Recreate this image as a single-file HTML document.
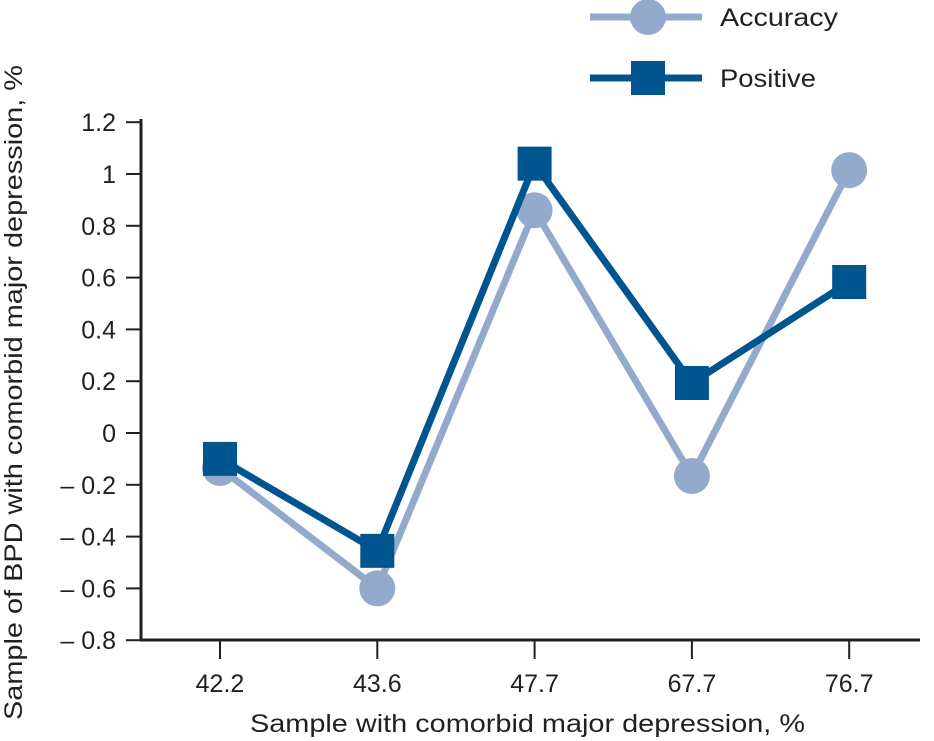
<!DOCTYPE html>
<html><head><meta charset="utf-8"><style>
body{margin:0;background:#fff;}
svg{display:block;font-family:"Liberation Sans",sans-serif;}
</style></head><body>
<svg id="c" width="934" height="741" viewBox="0 0 934 741"></svg>
<script>
const categories=["42.2","43.6","47.7","67.7","76.7"];
const accuracy=[-0.135,-0.60,0.86,-0.166,1.015];
const positive=[-0.10,-0.455,1.04,0.193,0.583];
const yTicks=[1.2,1,0.8,0.6,0.4,0.2,0,-0.2,-0.4,-0.6,-0.8];
const yTickLabels=["1.2","1","0.8","0.6","0.4","0.2","0","\u2013 0.2","\u2013 0.4","\u2013 0.6","\u2013 0.8"];
const NS="http://www.w3.org/2000/svg";
const svg=document.getElementById('c');
const y=v=>433-v*259;
const x=i=>220+i*157.3;
function mk(t,a,p){const e=document.createElementNS(NS,t);for(const k in a)e.setAttribute(k,a[k]);(p||svg).appendChild(e);return e;}
const dark="#00558f",light="#93aacd",axc="#231f20";
let ax=mk('line',{x1:141,y1:119,x2:141,y2:641,stroke:axc,'stroke-width':3});


let bx=mk('line',{x1:140,y1:640,x2:920,y2:640,stroke:axc,'stroke-width':3});


yTicks.forEach((v,i)=>{
 const t=mk('line',{x1:126,x2:141,y1:y(v),y2:y(v),stroke:axc,'stroke-width':2});
 
 
 const l=mk('text',{x:116,y:y(v)+9,'text-anchor':'end','font-size':25,fill:axc});
 l.textContent=yTickLabels[i];
 
 
});
categories.forEach((c,i)=>{
 const t=mk('line',{x1:x(i),x2:x(i),y1:640,y2:659,stroke:axc,'stroke-width':2});
 
 
 const l=mk('text',{x:x(i),y:692,'text-anchor':'middle','font-size':25,fill:axc});
 l.textContent=c;
 
 
});
let xt=mk('text',{x:250,y:732,'font-size':25,fill:axc,textLength:555,lengthAdjust:'spacingAndGlyphs'});
xt.textContent="Sample with comorbid major depression, %";


let yt=mk('text',{x:0,y:0,'font-size':25,fill:axc,textLength:655,lengthAdjust:'spacingAndGlyphs',transform:'translate(22,720) rotate(-90)'});
yt.textContent="Sample of BPD with comorbid major depression, %";


const la=mk('polyline',{points:accuracy.map((v,i)=>x(i)+','+y(v)).join(' '),fill:'none',stroke:light,'stroke-width':7});


accuracy.forEach((v,i)=>{
 const c=mk('circle',{cx:x(i),cy:y(v),r:18,fill:light});
 
 
});
const lp=mk('polyline',{points:positive.map((v,i)=>x(i)+','+y(v)).join(' '),fill:'none',stroke:dark,'stroke-width':7});


positive.forEach((v,i)=>{
 const r=mk('rect',{x:x(i)-17,y:y(v)-17,width:34,height:34,fill:dark});
 
 
});
const g1=mk('g',{});


mk('line',{x1:590,x2:702,y1:17,y2:17,stroke:light,'stroke-width':7},g1);
mk('circle',{cx:648,cy:17,r:18,fill:light},g1);
mk('text',{x:720,y:26,'font-size':25,fill:axc,textLength:118,lengthAdjust:'spacingAndGlyphs'},g1).textContent="Accuracy";
const g2=mk('g',{});


mk('line',{x1:590,x2:702,y1:78,y2:78,stroke:dark,'stroke-width':7},g2);
mk('rect',{x:631,y:61,width:34,height:34,fill:dark},g2);
mk('text',{x:720,y:87,'font-size':25,fill:axc,textLength:96,lengthAdjust:'spacingAndGlyphs'},g2).textContent="Positive";
</script>
</body></html>
